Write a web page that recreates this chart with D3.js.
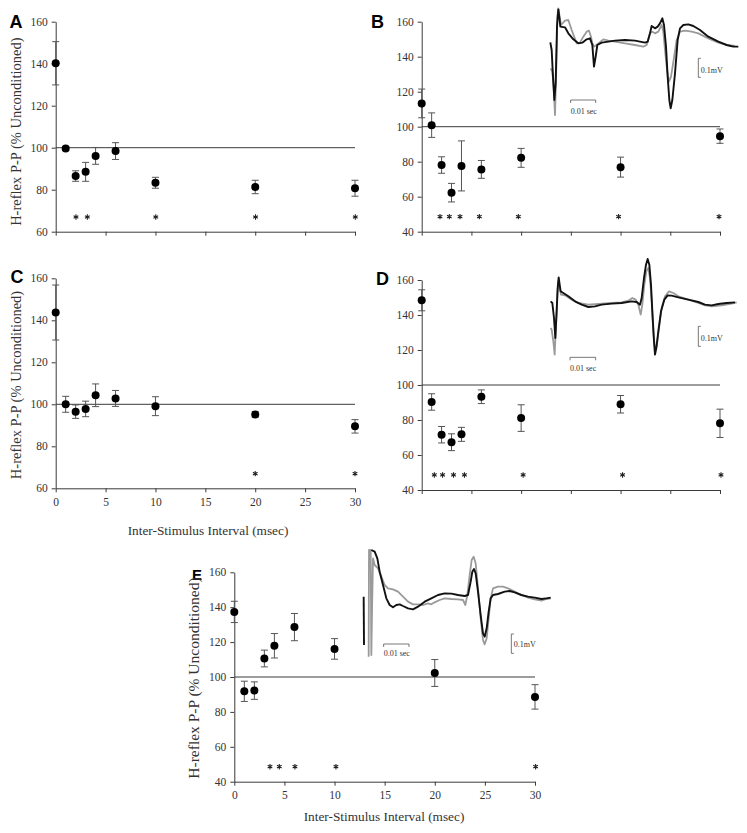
<!DOCTYPE html>
<html><head><meta charset="utf-8">
<script src="https://cdn.jsdelivr.net/npm/d3@7"></script>
<style>body{margin:0;background:#fff} svg{display:block}</style>
</head><body><svg id="c" width="747" height="833"></svg>
<script>
// ---------------- data ----------------
const isi = [0, 1, 2, 3, 4, 6, 10, 20, 30];
const xTicks = [0, 5, 10, 15, 20, 25, 30];

const meanA = [140.2, 99.6, 86.5, 88.5, 96.1, 98.4, 83.3, 81.3, 80.7];
const errA  = [10.3, 1.0, 2.5, 4.5, 4.0, 4.0, 2.6, 3.2, 3.8];
const meanB = [113.3, 100.9, 78.1, 62.3, 77.6, 75.6, 82.2, 76.9, 94.6];
const errB  = [8.2, 7.0, 4.7, 5.3, 14.3, 5.1, 5.4, 5.7, 4.1];
const meanC = [143.7, 100.0, 96.5, 97.8, 104.3, 102.8, 99.1, 95.2, 89.5];
const errC  = [13.1, 3.8, 3.2, 3.7, 5.4, 3.8, 4.5, 1.3, 3.2];
const meanD = [148.4, 90.3, 71.6, 67.3, 71.8, 93.3, 81.1, 89.0, 78.1];
const errD  = [6.0, 4.7, 4.7, 4.8, 4.0, 3.9, 7.6, 5.0, 8.1];
const meanE = [137.3, 91.8, 92.2, 110.6, 117.9, 128.6, 116.1, 102.3, 88.6];
const errE  = [6.1, 5.8, 5.0, 4.8, 7.0, 7.8, 5.9, 7.7, 7.0];

const starsA = [2.03, 3.17, 10.03, 20.03, 30.03];
const starsB = [1.84, 2.78, 3.85, 5.8, 9.72, 19.8, 29.9];
const starsC = [20, 30];
const starsD = [1.27, 2.1, 3.2, 4.3, 10.2, 20.2, 30.1];
const starsE = [3.56, 4.49, 6.05, 10.14, 30.06];

const yTicks60 = [60, 80, 100, 120, 140, 160];
const yTicks40 = [40, 60, 80, 100, 120, 140, 160];

// Inset EMG traces (inset-local units: 600 x 300 grid per 200 x 100 px box)
const traceBblack = [[16,127],[20,150],[24,230],[28,300],[32,250],[36,80],[40,28],[44,60],[46,80],[60,82],[70,100],[85,118],[100,130],[112,128],[125,118],[135,115],[142,135],[147,200],[152,170],[157,135],[170,128],[190,125],[210,122],[240,120],[270,122],[300,128],[308,125],[315,100],[320,78],[330,85],[338,80],[345,70],[352,55],[357,75],[363,140],[368,230],[373,300],[377,325],[382,300],[390,220],[398,120],[405,85],[415,75],[430,73],[445,78],[465,90],[490,110],[520,125],[545,135],[565,140],[580,140]];
const traceBgray = [[17,205],[22,215],[26,260],[30,345],[34,200],[37,50],[40,25],[44,50],[48,75],[60,62],[70,60],[80,90],[95,130],[105,128],[115,110],[125,95],[132,92],[138,110],[142,130],[148,140],[160,130],[175,118],[190,122],[210,125],[240,130],[270,135],[295,140],[305,135],[315,100],[322,95],[330,100],[340,95],[350,75],[355,95],[360,150],[366,210],[372,245],[378,230],[386,180],[395,120],[405,95],[420,92],[440,95],[460,100],[490,115],[520,128],[545,135],[570,138]];
const traceDblack = [[17,130],[22,135],[27,180],[31,240],[35,160],[38,90],[41,58],[44,80],[47,100],[55,105],[70,115],[90,130],[110,140],[130,147],[150,145],[170,140],[200,137],[230,135],[260,130],[275,132],[285,140],[290,120],[297,60],[303,20],[308,3],[313,20],[318,80],[322,160],[327,250],[330,290],[334,270],[340,220],[348,160],[358,125],[368,112],[380,113],[400,118],[430,125],[460,132],[480,140],[500,142],[520,138],[545,135],[570,133]];
const traceDgray = [[17,210],[20,215],[25,250],[29,290],[33,200],[37,110],[40,70],[44,90],[48,110],[60,112],[80,125],[100,135],[130,140],[160,138],[200,135],[230,133],[250,128],[262,120],[272,125],[280,140],[287,170],[292,140],[298,80],[304,40],[310,30],[315,60],[320,130],[325,220],[330,275],[335,265],[342,210],[350,150],[360,115],[372,100],[385,105],[400,115],[430,125],[460,135],[480,142],[500,145],[530,142],[560,137],[575,133]];
const traceEblack = [[40,15],[50,20],[58,40],[65,80],[75,120],[85,160],[95,180],[105,187],[115,180],[125,178],[135,183],[150,190],[165,193],[180,185],[200,170],[220,160],[240,150],[260,145],[280,146],[300,150],[320,153],[330,150],[338,110],[343,80],[348,72],[353,85],[360,140],[368,210],[375,265],[380,275],[386,250],[392,200],[398,160],[405,150],[420,147],[440,140],[455,138],[470,142],[490,150],[510,155],[530,158],[550,162],[565,160],[578,158]];
const traceEblack2 = [[17,155],[18,300]];
const traceEgray = [[32,335],[33,15],[38,15],[40,330],[42,200],[45,40],[50,60],[60,70],[70,95],[80,120],[90,130],[105,133],[120,140],[135,155],[150,170],[165,178],[180,178],[195,180],[210,175],[220,178],[230,172],[245,165],[260,160],[280,162],[300,163],[315,165],[322,180],[328,150],[335,90],[341,45],[347,35],[353,55],[360,130],[368,220],[375,285],[380,298],[386,280],[392,220],[398,160],[405,130],[420,125],[435,125],[450,130],[470,140],[490,150],[510,158],[530,163],[550,167],[565,162],[578,160]];

// ---------------- drawing ----------------
const svg = d3.select("#c");
const AX = "#3a3a3a";
const SERIF = "'Liberation Serif','Times New Roman',serif";

const panels = [
  {lab:"A", labSize:18, mean:meanA, err:errA, stars:starsA, starY:67, yt:yTicks60, x0:55.7, x1:355, yb:231.7, ytop:21.7, xlab:false, ytitle:[16,131.7,14.5], labPos:[9.5,28.3]},
  {lab:"B", labSize:18, mean:meanB, err:errB, stars:starsB, starY:48.6, yt:yTicks40, x0:421.7, x1:720, yb:231.7, ytop:21.7, xlab:false, ytitle:null, labPos:[371,28.3]},
  {lab:"C", labSize:18, mean:meanC, err:errC, stars:starsC, starY:67, yt:yTicks60, x0:55.7, x1:355, yb:488.3, ytop:278.3, xlab:true, xtitle:[208,535,13.3], ytitle:[16,385,14.5], labPos:[10.5,283]},
  {lab:"D", labSize:18, mean:meanD, err:errD, stars:starsD, starY:48.6, yt:yTicks40, x0:421.7, x1:720, yb:490, ytop:280, xlab:false, ytitle:null, labPos:[376,285]},
  {lab:"E", labSize:15, mean:meanE, err:errE, stars:starsE, starY:48.6, yt:yTicks40, x0:234.3, x1:535, yb:781.7, ytop:572.3, xlab:true, xtitle:[384,821,13.3], ytitle:[194,678,15.5], labPos:[192,580]}
];

// six-armed asterisk mark
function starPath(cx, cy, r) {
  let d = "";
  for (let k = 0; k < 3; k++) {
    const a = Math.PI / 2 + k * Math.PI / 3;
    const dx = r * Math.cos(a), dy = r * Math.sin(a);
    d += `M${cx - dx},${cy - dy}L${cx + dx},${cy + dy}`;
  }
  return d;
}

panels.forEach(p => {
  const g = svg.append("g");
  const x = d3.scaleLinear().domain([0, 30]).range([p.x0, p.x1]);
  const y = d3.scaleLinear().domain([p.yt[0], 160]).range([p.yb, p.ytop]);

  // axes
  const ya = g.append("g").attr("transform", `translate(${p.x0},0)`)
    .call(d3.axisLeft(y).tickValues(p.yt).tickSize(4).tickSizeOuter(0).tickPadding(4));
  const xa = g.append("g").attr("transform", `translate(0,${p.yb})`)
    .call(d3.axisBottom(x).tickValues(xTicks).tickSize(4).tickSizeOuter(0)
      .tickFormat(p.xlab ? d3.format("d") : () => ""));
  [ya, xa].forEach(a => {
    a.selectAll("path,line").attr("stroke", AX).attr("stroke-width", 1);
    a.selectAll("text").attr("fill", "#333").style("font-family", SERIF).style("font-size", "11.5px");
  });
  xa.selectAll("text").attr("y", 9.5).attr("dy", "0.71em");

  // reference line at 100
  g.append("line").attr("x1", x(0)).attr("x2", x(30)).attr("y1", y(100)).attr("y2", y(100))
    .attr("stroke", AX).attr("stroke-width", 1);

  const rows = isi.map((t, i) => ({t, m: p.mean[i], e: p.err[i]}));
  // error bars
  const eb = g.append("g").attr("stroke", "#555").attr("stroke-width", 1);
  rows.forEach(r => {
    const cx = x(r.t);
    eb.append("line").attr("x1", cx).attr("x2", cx).attr("y1", y(r.m - r.e)).attr("y2", y(r.m + r.e));
    eb.append("line").attr("x1", cx - 3.5).attr("x2", cx + 3.5).attr("y1", y(r.m + r.e)).attr("y2", y(r.m + r.e));
    eb.append("line").attr("x1", cx - 3.5).attr("x2", cx + 3.5).attr("y1", y(r.m - r.e)).attr("y2", y(r.m - r.e));
  });
  // points
  g.selectAll("circle.pt").data(rows).join("circle").attr("class", "pt")
    .attr("cx", d => x(d.t)).attr("cy", d => y(d.m)).attr("r", 4).attr("fill", "#000");

  // significance stars
  g.selectAll("path.star").data(p.stars).join("path").attr("class", "star")
    .attr("d", d => starPath(x(d), y(p.starY), 2.7))
    .attr("stroke", "#222").attr("stroke-width", 1.1).attr("fill", "none");

  // panel letter
  g.append("text").attr("x", p.labPos[0]).attr("y", p.labPos[1])
    .style("font-family", "'Liberation Sans',Arial,sans-serif").style("font-weight", "bold")
    .style("font-size", p.labSize + "px").attr("fill", "#000").text(p.lab);

  if (p.ytitle) {
    g.append("text").attr("transform", `translate(${p.ytitle[0] + 5},${p.ytitle[1]}) rotate(-90)`)
      .attr("text-anchor", "middle").style("font-family", SERIF).style("font-size", p.ytitle[2] + "px")
      .attr("fill", "#333").text("H-reflex P-P (% Unconditioned)");
  }
  if (p.xtitle) {
    g.append("text").attr("x", p.xtitle[0]).attr("y", p.xtitle[1]).attr("text-anchor", "middle")
      .style("font-family", SERIF).style("font-size", p.xtitle[2] + "px")
      .attr("fill", "#333").text("Inter-Stimulus Interval (msec)");
  }
});

// ---------------- insets ----------------
const insets = [
  {ox:545, oy:0, gray:[traceBgray], black:[traceBblack], sec:{x1:77, x2:152, y:300, ty:333}, mv:{x:460, y1:175, y2:232, ty:210}},
  {ox:545, oy:258, gray:[traceDgray], black:[traceDblack], sec:{x1:75, x2:152, y:298, ty:331}, mv:{x:460, y1:205, y2:265, ty:240}},
  {ox:358, oy:545, gray:[traceEgray], black:[traceEblack, traceEblack2], sec:{x1:77, x2:153, y:297, ty:325}, mv:{x:460, y1:267, y2:325, ty:298}}
];
insets.forEach(s => {
  const sx = d3.scaleLinear().domain([0, 600]).range([s.ox, s.ox + 200]);
  const sy = d3.scaleLinear().domain([0, 300]).range([s.oy, s.oy + 100]);
  const line = d3.line().x(d => sx(d[0])).y(d => sy(d[1]));
  const g = svg.append("g").attr("fill", "none");
  s.gray.forEach(tr => g.append("path").attr("d", line(tr)).attr("stroke", "#9a9a9a").attr("stroke-width", 1.8).attr("stroke-linejoin", "round"));
  s.black.forEach(tr => g.append("path").attr("d", line(tr)).attr("stroke", "#111").attr("stroke-width", 1.9).attr("stroke-linejoin", "round"));
  // time scale bar
  g.append("path").attr("d", `M${sx(s.sec.x1)},${sy(s.sec.y) + 3}V${sy(s.sec.y)}H${sx(s.sec.x2)}V${sy(s.sec.y) + 3}`)
    .attr("stroke", "#555").attr("stroke-width", 0.8);
  g.append("text").attr("x", sx(s.sec.x1)).attr("y", sy(s.sec.ty) + 3).attr("fill", "#333")
    .style("font-family", SERIF).style("font-size", "8px").text("0.01 sec");
  // voltage scale bar
  g.append("path").attr("d", `M${sx(s.mv.x) + 2.5},${sy(s.mv.y1)}H${sx(s.mv.x)}V${sy(s.mv.y2)}H${sx(s.mv.x) + 2.5}`)
    .attr("stroke", "#555").attr("stroke-width", 0.8);
  g.append("text").attr("x", sx(s.mv.x) + 2.5).attr("y", sy(s.mv.ty) + 3).attr("fill", "#333")
    .style("font-family", SERIF).style("font-size", "8px").text("0.1mV");
});
</script></body></html>
